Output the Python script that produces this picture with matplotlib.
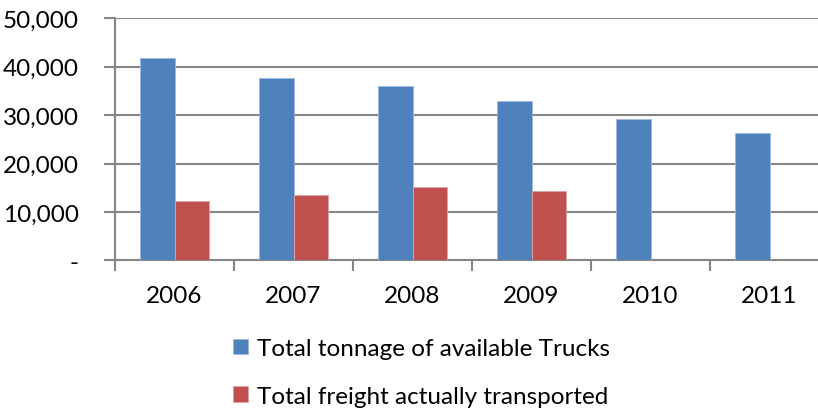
import matplotlib
matplotlib.use("Agg")
import matplotlib.pyplot as plt
from matplotlib.ticker import FuncFormatter
import numpy as np

years = ["2006", "2007", "2008", "2009", "2010", "2011"]
tonnage = [41900, 37700, 36000, 32900, 29200, 26200]
freight = [12200, 13400, 15100, 14300, 0, 0]

plt.rcParams["font.family"] = ["Lato", "DejaVu Sans"]

fig = plt.figure(figsize=(8.18, 4.10), dpi=100)
ax = fig.add_axes([115 / 818, 148.7 / 410, 714 / 818, 242 / 410])

x = np.arange(len(years))
w = 0.286
ax.bar(x - w / 2, tonnage, w, color="#4F81BD", edgecolor="#9DB9DE", linewidth=0.6,
       label="Total tonnage of available Trucks", zorder=3)
ax.bar(x + w / 2, freight, w, color="#C0504D", edgecolor="#E0A5A3", linewidth=0.6,
       label="Total freight actually transported", zorder=3)

ax.set_xlim(-0.5, len(years) - 0.5)
ax.set_ylim(0, 50000)
ax.set_yticks(range(0, 50001, 10000))
ax.yaxis.set_major_formatter(FuncFormatter(lambda v, p: "-" if v == 0 else f"{int(v):,}"))
ax.set_xticks(x)
ax.set_xticklabels(years)
ax.set_xticks(np.arange(-0.5, len(years)), minor=True)

ax.grid(axis="y", color="#868686", linewidth=1.5, zorder=0)
for s in ["top", "right"]:
    ax.spines[s].set_visible(False)
ax.spines["left"].set_color("#868686")
ax.spines["bottom"].set_color("#868686")
ax.spines["left"].set_linewidth(1.5)
ax.spines["bottom"].set_linewidth(1.5)

ax.tick_params(axis="y", length=8, width=1.5, color="#868686", labelsize=17.5, pad=18)
ax.tick_params(axis="x", which="major", length=0, labelsize=17.5, pad=18)
ax.tick_params(axis="x", which="minor", length=8, width=1.5, color="#868686")

fig.legend(loc="upper left", bbox_to_anchor=(233 / 818, 1 - 339 / 410), frameon=False,
           fontsize=17.5, handlelength=0.62, handleheight=0.62, handletextpad=0.35,
           labelspacing=1.1, borderpad=0, borderaxespad=0)

fig.savefig("out.png", dpi=100)
